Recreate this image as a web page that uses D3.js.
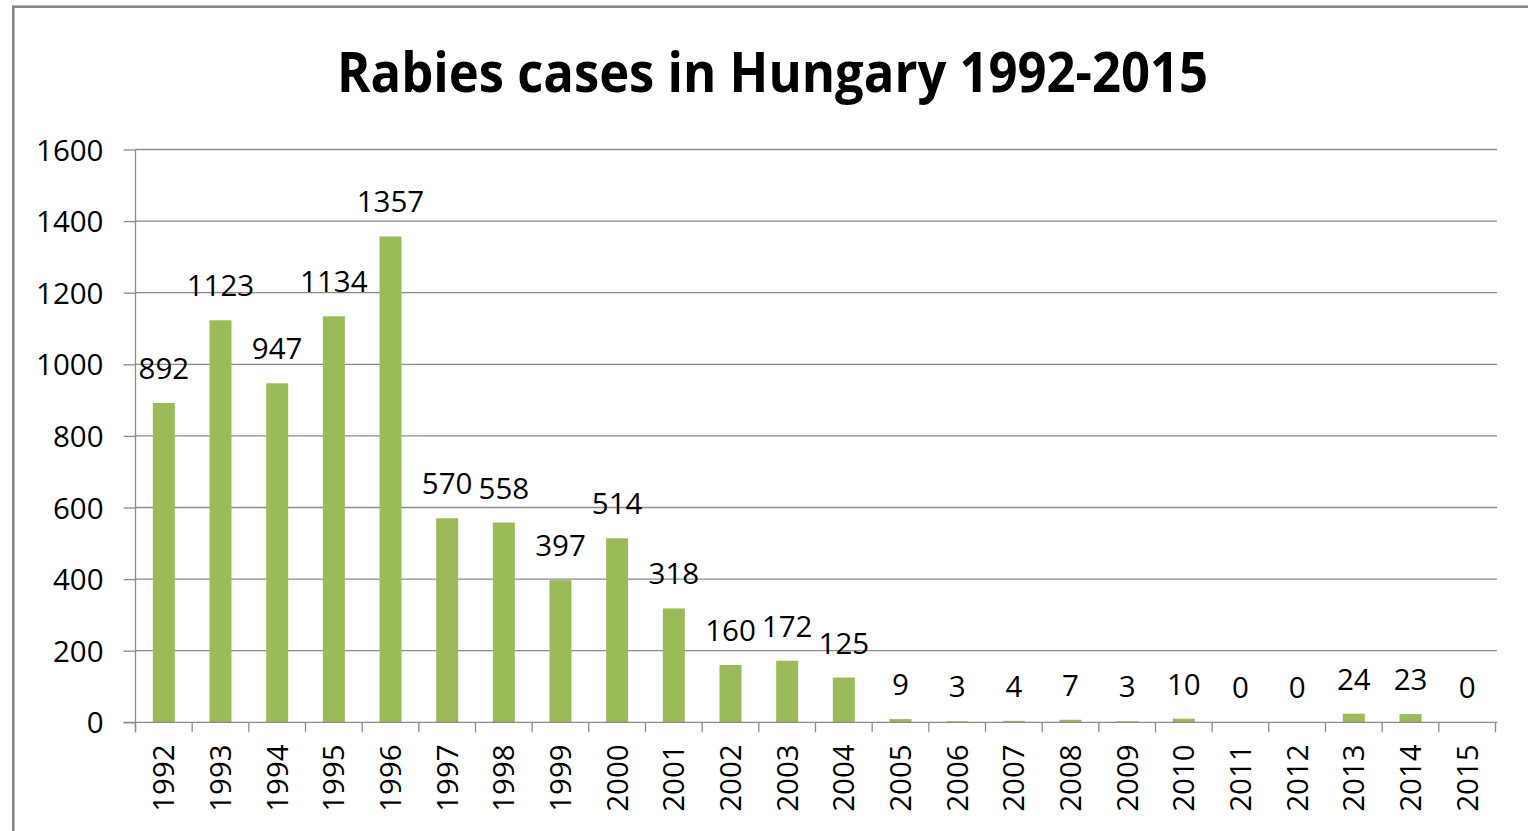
<!DOCTYPE html>
<html>
<head>
<meta charset="utf-8">
<script src="https://cdn.jsdelivr.net/npm/d3@7"></script>
<style>
  html, body { margin: 0; padding: 0; background: #fff; }
  svg { display: block; }
  text { font-family: "Open Sans", "Liberation Sans", sans-serif; fill: #000; }
</style>
</head>
<body>
<svg id="chart" width="1528" height="831"></svg>
<script>
const years = ["1992","1993","1994","1995","1996","1997","1998","1999","2000","2001","2002","2003","2004","2005","2006","2007","2008","2009","2010","2011","2012","2013","2014","2015"];
const cases = [892,1123,947,1134,1357,570,558,397,514,318,160,172,125,9,3,4,7,3,10,0,0,24,23,0];
const yTicks = [0,200,400,600,800,1000,1200,1400,1600];
const titleText = "Rabies cases in Hungary 1992-2015";

(function () {
const svg = d3.select("#chart");
const W = 1528, H = 831;

// chart border
svg.append("rect")
  .attr("x", 13.3).attr("y", 6.7)
  .attr("width", W + 20).attr("height", H + 20)
  .attr("fill", "#fff")
  .attr("stroke", "#878787").attr("stroke-width", 2.6);

const pL = 135.5, pR = 1495.5, pT = 149.5, pB = 722.3;

const x = d3.scaleBand().domain(years).range([pL, pR])
  .paddingInner(0.612).paddingOuter(0.306);
const y = d3.scaleLinear().domain([0, 1600]).range([pB, pT]);

// gridlines
svg.append("g").selectAll("line").data(yTicks.filter(d => d > 0)).join("line")
  .attr("x1", pL).attr("x2", pR + 1.5)
  .attr("y1", d => y(d)).attr("y2", d => y(d))
  .attr("stroke", "#8c8c8c").attr("stroke-width", 1.3);

// bars
svg.append("g").selectAll("rect").data(years).join("rect")
  .attr("x", d => x(d))
  .attr("width", x.bandwidth())
  .attr("y", (d, i) => y(cases[i]))
  .attr("height", (d, i) => pB - y(cases[i]))
  .attr("fill", "#9bbb59");

// y axis
const yAxis = d3.axisLeft(y).tickValues(yTicks).tickFormat(d3.format("d"))
  .tickSizeInner(12).tickSizeOuter(0).tickPadding(20);
const gy = svg.append("g").attr("transform", `translate(${pL},0)`).call(yAxis);
gy.select(".domain").attr("stroke", "#8c8c8c").attr("stroke-width", 1.3)
  .attr("d", `M0,${pT}V${pB + 10}`);
gy.selectAll(".tick line").attr("stroke", "#8c8c8c").attr("stroke-width", 1.3);
gy.selectAll(".tick text")
  .style("font-family", "'Open Sans', sans-serif")
  .attr("font-size", 29.5).attr("fill", "#000").attr("dy", "0.36em");

// x axis (horizontal line at zero + boundary ticks)
const gx = svg.append("g");
gx.append("line").attr("x1", pL - 12).attr("x2", pR + 1.5)
  .attr("y1", pB).attr("y2", pB)
  .attr("stroke", "#8c8c8c").attr("stroke-width", 1.3);
const bounds = years.map(d => x(d) - x.step() * x.paddingInner() / 2).concat([pR]);
gx.selectAll("line.bt").data(bounds).join("line").attr("class", "bt")
  .attr("x1", d => d).attr("x2", d => d)
  .attr("y1", pB).attr("y2", pB + 10)
  .attr("stroke", "#8c8c8c").attr("stroke-width", 1.3);
gx.selectAll("text.xl").data(years).join("text").attr("class", "xl")
  .attr("transform", d => `translate(${x(d) + x.bandwidth() / 2 + 10.5},${pB + 22}) rotate(-90)`)
  .attr("text-anchor", "end")
  .attr("font-size", 29.5)
  .text(d => d);

// data labels
svg.append("g").selectAll("text").data(years).join("text")
  .attr("x", d => x(d) + x.bandwidth() / 2)
  .attr("y", (d, i) => y(cases[i]) - 24)
  .attr("text-anchor", "middle")
  .attr("font-size", 29.5)
  .text((d, i) => cases[i]);

// title
svg.append("text")
  .attr("x", 772.5).attr("y", 92)
  .attr("text-anchor", "middle")
  .attr("font-size", 56).attr("font-weight", "bold")
  .attr("textLength", 871).attr("lengthAdjust", "spacingAndGlyphs")
  .text(titleText);
})();
</script>
</body>
</html>
